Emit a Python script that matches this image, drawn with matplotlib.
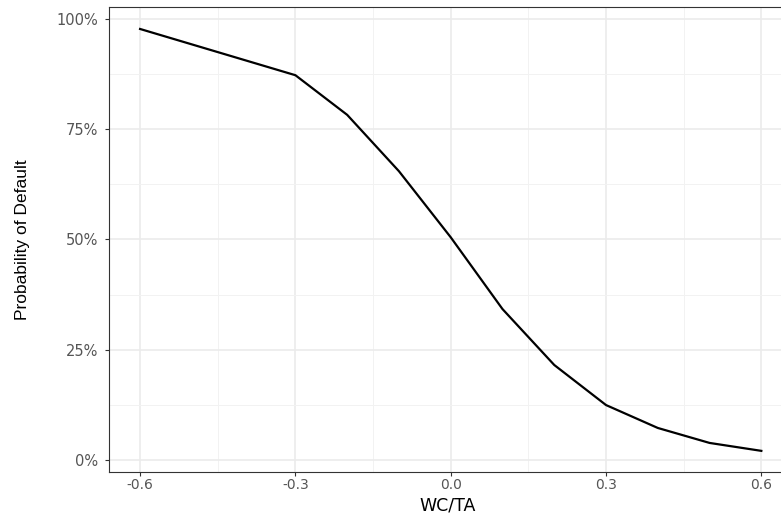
import numpy as np
import matplotlib.pyplot as plt
from matplotlib.ticker import FixedLocator, FuncFormatter

# values
wc_ta = [-0.6, -0.3, -0.2, -0.1, 0.0, 0.1, 0.2, 0.3, 0.4, 0.5, 0.6]
prob_default = [0.978, 0.873, 0.783, 0.655, 0.505, 0.342, 0.215, 0.124, 0.072, 0.038, 0.020]

x_ticks = [-0.6, -0.3, 0.0, 0.3, 0.6]
x_minor = [-0.45, -0.15, 0.15, 0.45]
y_ticks = [0, 0.25, 0.5, 0.75, 1.0]
y_minor = [0.125, 0.375, 0.625, 0.875]

fig = plt.figure(figsize=(7.81, 5.15), dpi=100)
ax = fig.add_axes([0.1396, 0.0835, 0.875, 0.903])

for v in x_ticks:
    ax.axvline(v, color='#EBEBEB', lw=1.2, zorder=0)
for v in x_minor:
    ax.axvline(v, color='#F2F2F2', lw=0.7, zorder=0)
for v in y_ticks:
    ax.axhline(v, color='#EBEBEB', lw=1.2, zorder=0)
for v in y_minor:
    ax.axhline(v, color='#F2F2F2', lw=0.7, zorder=0)

ax.plot(wc_ta, prob_default, color='black', lw=1.6, zorder=3)

ax.set_xlim(-0.66, 0.66)
ax.set_ylim(-0.028, 1.028)
ax.xaxis.set_major_locator(FixedLocator(x_ticks))
ax.yaxis.set_major_locator(FixedLocator(y_ticks))
ax.xaxis.set_major_formatter(FuncFormatter(lambda v, p: f"{v:.1f}"))
ax.yaxis.set_major_formatter(FuncFormatter(lambda v, p: f"{v*100:.0f}%"))

ax.tick_params(axis='both', length=3, width=0.8, color='#333333',
               labelcolor='#555555', labelsize=10.5)
ax.tick_params(axis='y', pad=5)
ax.tick_params(axis='x', pad=1.5, labelsize=10)
for lab in ax.get_xticklabels() + ax.get_yticklabels():
    lab.set_family('DejaVu Sans')

for s in ax.spines.values():
    s.set_color('#333333')
    s.set_linewidth(0.8)

ax.set_xlabel('WC/TA', fontsize=12.5, family='DejaVu Sans', va='bottom')
ax.xaxis.set_label_coords(0.495, -0.091)
ax.set_ylabel('Probability of Default', fontsize=12.5,
              family=['Liberation Sans', 'DejaVu Sans'])
ax.yaxis.set_label_coords(-0.116, 0.5)

fig.savefig('out.png', dpi=100)
